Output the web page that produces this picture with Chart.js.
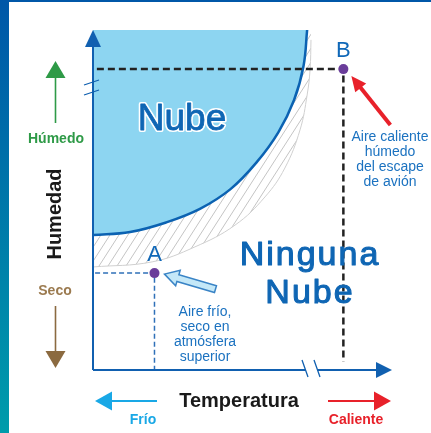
<!DOCTYPE html>
<html>
<head>
<meta charset="utf-8">
<script src="https://cdn.jsdelivr.net/npm/chart.js@4.4.1/dist/chart.umd.min.js"></script>
<style>
html, body { margin: 0; padding: 0; background: #fff; }
#wrap { width: 431px; height: 433px; }
</style>
</head>
<body>
<div id="wrap"><canvas id="grafico" width="431" height="433"></canvas></div>
<script>
// borde de la nube (temperatura, humedad), escala 0-100
var nubeX = [0, 12.5, 24.6, 36.0, 46.3, 55.2, 62.4, 67.7, 70.9, 72.1];
var nubeY = [39.7, 40.6, 43.4, 47.4, 53.2, 61.2, 69.9, 79.4, 89.5, 100];

// borde exterior de la zona rayada
var rayaX = [0, 19.9, 34.3, 47.8, 57.9, 64.6, 69.7, 72.1, 73.1, 73.4];
var rayaY = [30.3, 31.8, 36.2, 42.6, 50.9, 59.4, 70.6, 80.9, 88.5, 97.1];

// puntos A y B
var puntosNombre = ['A', 'B'];
var puntosX = [20.7, 84.3];
var puntosY = [28.5, 88.5];

var textoA = ['Aire frío,', 'seco en', 'atmósfera', 'superior'];
var textoB = ['Aire caliente', 'húmedo', 'del escape', 'de avión'];

var FONT = '"Liberation Sans", Arial, sans-serif';

function puntos(xs, ys) {
    var out = [];
    for (var i = 0; i < xs.length; i++) {
        out.push({x: xs[i], y: ys[i]});
    }
    return out;
}

var ctx = document.getElementById('grafico').getContext('2d');

// rayado gris
var tile = document.createElement('canvas');
tile.width = 9;
tile.height = 14;
var t = tile.getContext('2d');
t.strokeStyle = '#c4c4c4';
t.lineWidth = 1;
t.beginPath();
t.moveTo(0, 14); t.lineTo(9, 0);
t.moveTo(-9, 14); t.lineTo(0, 0);
t.moveTo(9, 14); t.lineTo(18, 0);
t.stroke();
var rayado = ctx.createPattern(tile, 'repeat');

function flecha(c, x1, y1, x2, y2, color, lw, largo, ancho) {
    var ang = Math.atan2(y2 - y1, x2 - x1);
    var bx = x2 - Math.cos(ang) * largo;
    var by = y2 - Math.sin(ang) * largo;
    c.strokeStyle = color;
    c.fillStyle = color;
    c.lineWidth = lw;
    c.beginPath();
    c.moveTo(x1, y1);
    c.lineTo(bx + Math.cos(ang) * 1, by + Math.sin(ang) * 1);
    c.stroke();
    c.beginPath();
    c.moveTo(x2, y2);
    c.lineTo(bx + Math.sin(ang) * ancho, by - Math.cos(ang) * ancho);
    c.lineTo(bx - Math.sin(ang) * ancho, by + Math.cos(ang) * ancho);
    c.closePath();
    c.fill();
}

function texto(c, s, x, y, font, color) {
    c.font = font;
    c.fillStyle = color;
    c.textAlign = 'center';
    c.textBaseline = 'alphabetic';
    c.fillText(s, x, y);
}

var disegno = {
    id: 'disegno',
    beforeDraw: function (chart) {
        var c = chart.ctx;
        c.save();
        var g = c.createLinearGradient(0, 0, 0, chart.height);
        g.addColorStop(0, '#0057a8');
        g.addColorStop(1, '#009cab');
        c.fillStyle = g;
        c.fillRect(0, 0, 9, chart.height);
        c.fillStyle = '#0057a8';
        c.fillRect(0, 0, chart.width, 2);
        c.restore();
    },
    afterDatasetsDraw: function (chart) {
        var c = chart.ctx;
        var a = chart.chartArea;
        var sx = chart.scales.x, sy = chart.scales.y;
        c.save();

        // ejes
        var azul = '#1160b0';
        c.strokeStyle = azul;
        c.fillStyle = azul;
        c.lineWidth = 2;
        c.beginPath();
        c.moveTo(a.left, a.bottom);
        c.lineTo(a.left, 86);
        c.moveTo(a.left, 92);
        c.lineTo(a.left, a.top + 15);
        c.moveTo(a.left, a.bottom);
        c.lineTo(306, a.bottom);
        c.moveTo(317, a.bottom);
        c.lineTo(a.right - 12, a.bottom);
        c.stroke();
        c.beginPath();
        c.moveTo(a.left, a.top);
        c.lineTo(a.left - 8, a.top + 17);
        c.lineTo(a.left + 8, a.top + 17);
        c.closePath();
        c.fill();
        c.beginPath();
        c.moveTo(a.right + 2, a.bottom);
        c.lineTo(a.right - 14, a.bottom - 8);
        c.lineTo(a.right - 14, a.bottom + 8);
        c.closePath();
        c.fill();
        // cortes
        c.lineWidth = 1.3;
        c.beginPath();
        c.moveTo(84, 85); c.lineTo(99, 80);
        c.moveTo(84, 95); c.lineTo(99, 90);
        c.moveTo(302, 360); c.lineTo(308, 377);
        c.moveTo(314, 360); c.lineTo(320, 377);
        c.stroke();

        // nombres de los puntos
        for (var i = 0; i < puntosNombre.length; i++) {
            texto(c, puntosNombre[i], sx.getPixelForValue(puntosX[i]),
                sy.getPixelForValue(puntosY[i]) - 12, '22px ' + FONT, '#1068b8');
        }

        // flecha roja hacia B
        var bx = sx.getPixelForValue(puntosX[1]), by = sy.getPixelForValue(puntosY[1]);
        flecha(c, bx + 47, by + 56, bx + 8, by + 7, '#e8212a', 4, 15, 7);

        // flecha celeste hacia A
        var ax = sx.getPixelForValue(puntosX[0]), ay = sy.getPixelForValue(puntosY[0]);
        var tx = ax + 10, ty = ay + 1, qx = ax + 61, qy = ay + 16;
        var ang = Math.atan2(ty - qy, tx - qx);
        var ux = Math.cos(ang), uy = Math.sin(ang), nx = -uy, ny = ux;
        var hx = tx - ux * 14, hy = ty - uy * 14;
        c.beginPath();
        c.moveTo(qx + nx * 3.5, qy + ny * 3.5);
        c.lineTo(hx + nx * 3.5, hy + ny * 3.5);
        c.lineTo(hx + nx * 8, hy + ny * 8);
        c.lineTo(tx, ty);
        c.lineTo(hx - nx * 8, hy - ny * 8);
        c.lineTo(hx - nx * 3.5, hy - ny * 3.5);
        c.lineTo(qx - nx * 3.5, qy - ny * 3.5);
        c.closePath();
        c.fillStyle = '#c4e8f8';
        c.fill();
        c.strokeStyle = '#3a84c6';
        c.lineWidth = 1.5;
        c.stroke();

        // textos azules
        for (var j = 0; j < textoB.length; j++) {
            texto(c, textoB[j], 390, 141 + j * 15, '14px ' + FONT, '#1b72c0');
        }
        for (var k = 0; k < textoA.length; k++) {
            texto(c, textoA[k], 205, 316 + k * 15, '14px ' + FONT, '#1b72c0');
        }

        // Nube
        c.font = '37px ' + FONT;
        c.textAlign = 'center';
        c.lineJoin = 'round';
        c.lineWidth = 4;
        c.strokeStyle = '#ffffff';
        c.strokeText('Nube', 182, 130);
        c.fillStyle = '#0f66b4';
        c.fillText('Nube', 182, 130);
        c.lineWidth = 0.8;
        c.strokeStyle = '#0f66b4';
        c.strokeText('Nube', 182, 130);

        // Ninguna Nube
        c.font = '34px ' + FONT;
        c.letterSpacing = '2px';
        c.fillStyle = '#0f66b4';
        c.strokeStyle = '#0f66b4';
        c.lineWidth = 1.1;
        c.fillText('Ninguna', 310, 265);
        c.strokeText('Ninguna', 310, 265);
        c.fillText('Nube', 310, 303);
        c.strokeText('Nube', 310, 303);
        c.letterSpacing = '0px';

        // lado izquierdo
        texto(c, 'Húmedo', 56, 143, 'bold 14px ' + FONT, '#2e9a47');
        flecha(c, 55.5, 123, 55.5, 61, '#2e9a47', 1.6, 17, 10);
        texto(c, 'Seco', 55, 295, 'bold 14px ' + FONT, '#9b7a4f');
        flecha(c, 55.5, 306, 55.5, 368, '#8b6a40', 1.6, 17, 10);
        c.save();
        c.translate(61, 214);
        c.rotate(-Math.PI / 2);
        texto(c, 'Humedad', 0, 0, 'bold 20px ' + FONT, '#1a1a1a');
        c.restore();

        // abajo
        texto(c, 'Temperatura', 239, 407, 'bold 20px ' + FONT, '#1a1a1a');
        flecha(c, 157, 401, 95, 401, '#19a8e6', 1.8, 17, 9.5);
        texto(c, 'Frío', 143, 424, 'bold 14px ' + FONT, '#19a8e6');
        flecha(c, 328, 401, 391, 401, '#e8212a', 1.8, 17, 9.5);
        texto(c, 'Caliente', 356, 424, 'bold 14px ' + FONT, '#e8212a');

        c.restore();
    }
};

var chart = new Chart(ctx, {
    type: 'line',
    data: {
        datasets: [
            {
                data: puntos(puntosX, puntosY),
                showLine: false,
                pointRadius: 5,
                pointBackgroundColor: '#6a3d9a',
                pointBorderWidth: 0
            },
            {
                data: [{x: 1.3, y: puntosY[1]}, {x: puntosX[1], y: puntosY[1]}, {x: puntosX[1], y: 2.4}],
                borderColor: '#222222',
                borderWidth: 2.5,
                borderDash: [7, 4],
                pointRadius: 0,
                tension: 0
            },
            {
                data: [{x: 0.7, y: puntosY[0]}, {x: puntosX[0], y: puntosY[0]}, {x: puntosX[0], y: 0}],
                borderColor: '#2f70b8',
                borderWidth: 1.5,
                borderDash: [5, 3],
                pointRadius: 0,
                tension: 0
            },
            {
                data: puntos(nubeX, nubeY),
                borderColor: '#0b62b2',
                borderWidth: 2.5,
                backgroundColor: '#8dd5f1',
                fill: 'end',
                pointRadius: 0,
                tension: 0.4
            },
            {
                data: puntos(rayaX, rayaY),
                borderColor: '#d0d0d0',
                borderWidth: 1,
                backgroundColor: rayado,
                fill: 'end',
                pointRadius: 0,
                tension: 0.4
            }
        ]
    },
    options: {
        responsive: false,
        animation: false,
        layout: { padding: { left: 93, top: 30, right: 41, bottom: 63 } },
        scales: {
            x: { type: 'linear', min: 0, max: 100, display: false },
            y: { type: 'linear', min: 0, max: 100, display: false }
        },
        plugins: {
            legend: { display: false },
            tooltip: { enabled: false }
        },
        events: []
    },
    plugins: [disegno]
});
</script>
</body>
</html>
